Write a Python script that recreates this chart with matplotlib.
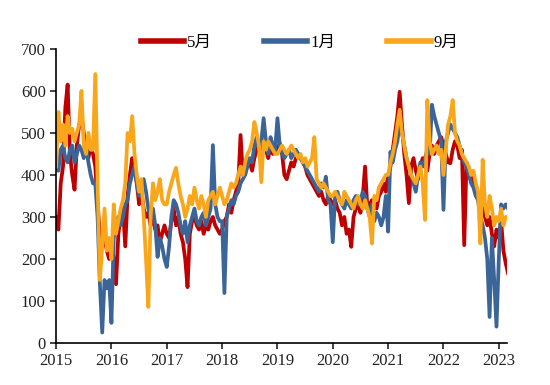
import numpy as np
import matplotlib
matplotlib.use("Agg")
import matplotlib.pyplot as plt

# half-month values, year by year
red_yr = {
    2015: [300, 270, 380, 420, 560, 615, 450, 400, 365, 470, 520, 540, 500, 460, 440, 470, 450, 420, 330, 260, 230, 250, 220, 200],
    2016: [240, 200, 140, 260, 300, 320, 230, 350, 400, 440, 420, 380, 330, 360, 320, 300, 310, 280, 300, 270, 280, 240, 260, 280],
    2017: [260, 250, 290, 320, 280, 300, 260, 240, 200, 133, 260, 290, 300, 280, 270, 290, 260, 280, 270, 290, 300, 280, 270, 260],
    2018: [270, 290, 300, 330, 310, 340, 360, 380, 495, 400, 420, 440, 430, 410, 440, 460, 470, 450, 480, 460, 440, 470, 450, 460],
    2019: [460, 476, 450, 400, 390, 410, 430, 420, 440, 450, 440, 430, 420, 400, 390, 380, 370, 360, 350, 360, 340, 330, 350, 340],
    2020: [330, 340, 320, 310, 280, 300, 260, 270, 229, 300, 320, 330, 310, 350, 420, 320, 330, 340, 330, 320, 350, 360, 380, 360],
    2021: [400, 420, 460, 500, 540, 598, 520, 450, 400, 333, 420, 440, 410, 390, 420, 440, 420, 410, 450, 470, 450, 470, 480, 490],
    2022: [470, 450, 430, 428, 460, 480, 470, 440, 460, 233, 430, 410, 400, 380, 360, 340, 330, 320, 300, 280, 300, 260, 230, 270],
    2023: [250, 290, 220, 190, 166],
}
blue_yr = {
    2015: [420, 410, 460, 470, 440, 430, 460, 470, 430, 450, 470, 460, 440, 470, 430, 400, 380, 380, 300, 140, 25, 150, 130, 150],
    2016: [48, 250, 280, 300, 280, 300, 330, 340, 380, 400, 420, 380, 350, 370, 390, 360, 320, 300, 320, 280, 205, 250, 230, 200],
    2017: [181, 230, 300, 340, 330, 310, 280, 260, 290, 240, 280, 300, 320, 290, 280, 300, 310, 280, 300, 320, 471, 330, 300, 290],
    2018: [290, 119, 300, 320, 340, 330, 350, 360, 380, 390, 400, 420, 440, 430, 470, 490, 460, 480, 535, 480, 450, 490, 470, 460],
    2019: [535, 470, 450, 440, 450, 460, 440, 450, 460, 450, 440, 430, 420, 410, 400, 390, 380, 370, 360, 380, 370, 396, 340, 330],
    2020: [240, 350, 360, 340, 330, 320, 340, 330, 320, 340, 350, 330, 340, 360, 350, 320, 300, 330, 290, 310, 300, 280, 300, 350],
    2021: [265, 455, 430, 460, 480, 520, 500, 470, 440, 420, 400, 380, 360, 400, 430, 420, 440, 460, 450, 567, 540, 520, 500, 480],
    2022: [317, 480, 500, 520, 510, 500, 490, 470, 450, 430, 420, 400, 380, 370, 350, 340, 300, 280, 250, 200, 62, 250, 150, 39],
    2023: [200, 330, 320, 330, 320],
}
orange_yr = {
    2015: [420, 550, 480, 520, 470, 540, 500, 510, 480, 500, 520, 600, 470, 450, 500, 460, 460, 640, 380, 150, 230, 320, 220, 250],
    2016: [200, 330, 260, 290, 320, 340, 380, 500, 480, 540, 450, 400, 360, 390, 300, 200, 86, 300, 380, 340, 360, 390, 340, 330],
    2017: [330, 360, 380, 400, 417, 380, 350, 330, 300, 320, 350, 330, 370, 340, 320, 350, 330, 300, 340, 350, 360, 330, 350, 370],
    2018: [350, 330, 340, 360, 380, 370, 380, 400, 420, 400, 430, 450, 460, 480, 526, 500, 470, 383, 480, 460, 480, 470, 460, 450],
    2019: [450, 460, 470, 460, 450, 460, 470, 460, 450, 440, 450, 430, 440, 420, 430, 440, 490, 390, 380, 370, 380, 370, 360, 350],
    2020: [350, 360, 350, 340, 330, 360, 350, 340, 330, 320, 340, 350, 330, 320, 340, 320, 300, 237, 350, 340, 370, 380, 390, 400],
    2021: [400, 430, 450, 480, 520, 555, 500, 470, 440, 420, 400, 390, 380, 400, 420, 380, 293, 578, 480, 450, 460, 470, 450, 460],
    2022: [400, 460, 520, 540, 578, 500, 480, 470, 450, 440, 430, 420, 400, 410, 380, 360, 237, 436, 330, 300, 350, 320, 280, 300],
    2023: [290, 320, 280, 300, 300],
}

def flatten(d):
    vals = []
    for y in sorted(d):
        vals += d[y]
    return np.array(vals, dtype=float)

red = flatten(red_yr)
blue = flatten(blue_yr)
orange = flatten(orange_yr)
t = 2015 + np.arange(len(red)) / 24.0

fig = plt.figure(figsize=(5.5, 3.85), dpi=100)
ax = fig.add_axes([0.102, 0.109, 0.82, 0.764])

lw = 2.7
ax.plot(t, red, color="#C00000", lw=lw, label="5月")
ax.plot(t, blue, color="#3B6598", lw=lw, label="1月")
ax.plot(t, orange, color="#FAA61A", lw=lw, label="9月")

ax.set_xlim(2015, 2023.15)
ax.set_ylim(0, 700)
ax.set_xticks(range(2015, 2024))
ax.set_yticks(range(0, 701, 100))
for s in ["top", "right"]:
    ax.spines[s].set_visible(False)
ax.spines["left"].set_linewidth(1.2)
ax.spines["bottom"].set_linewidth(1.2)
ax.tick_params(direction="out", length=4, width=1.2, labelsize=12, colors="#222222")
for lab in ax.get_xticklabels() + ax.get_yticklabels():
    lab.set_fontfamily("Liberation Serif")

leg = fig.legend(loc="center", bbox_to_anchor=(0.545, 0.888), ncol=3, frameon=False,
                 handlelength=2.6, columnspacing=3.1, handletextpad=0.2,
                 prop={"family": ["Liberation Serif", "Noto Sans CJK SC"], "size": 12})
for line in leg.get_lines():
    line.set_linewidth(4)

fig.savefig("out.png", dpi=100)
